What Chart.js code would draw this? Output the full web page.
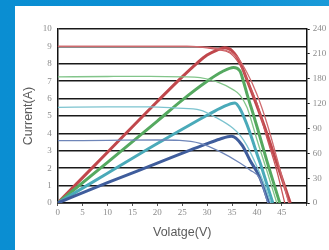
<!DOCTYPE html>
<html>
<head>
<meta charset="utf-8">
<script src="https://cdn.jsdelivr.net/npm/chart.js@4"></script>
<style>
  html, body { margin: 0; padding: 0; }
  body { width: 329px; height: 250px; overflow: hidden; background: linear-gradient(90deg, #0a8ed2 0%, #0b8fd4 60%, #1a9ad8 100%); position: relative; }
  #panel { position: absolute; left: 15px; top: 6px; width: 314px; height: 244px; background: #fff; }
</style>
</head>
<body>
<div id="panel"><canvas id="chart" width="314" height="244"></canvas></div>
<script>
// current (A) vs voltage (V), thin lines, left axis
const redIvV = [0, 10, 20, 26, 30, 32, 34.6, 36, 37.2, 38.6, 40, 42, 44, 45.6];
const redIvA = [9.0, 9.0, 9.0, 9.0, 8.92, 8.82, 8.62, 8.2, 7.64, 6.68, 5.73, 3.75, 1.85, 0];
const red2IvV = [0, 10, 20, 26, 30, 32, 34, 36, 38, 40, 42, 44, 46.4];
const red2IvA = [9.0, 9.0, 9.0, 9.0, 8.95, 8.88, 8.75, 8.4, 7.5, 6.25, 4.6, 2.6, 0];
const greenIvV = [0, 10, 18.5, 25, 28.6, 31.9, 35.3, 36.6, 38, 38.6, 40, 42, 44];
const greenIvA = [7.25, 7.27, 7.28, 7.25, 7.2, 6.97, 6.5, 6.2, 5.5, 5.0, 3.65, 1.85, 0];
const tealIvV = [0, 10, 18.5, 24, 28.6, 31.9, 35.2, 36.6, 38, 40, 41.5, 42.8];
const tealIvA = [5.5, 5.52, 5.53, 5.45, 5.34, 4.9, 4.3, 3.9, 3.3, 2.1, 1.05, 0];
const blueIvV = [0, 10, 20, 24.5, 28.6, 32.6, 36.6, 38.6, 40.6, 42.2];
const blueIvA = [3.58, 3.6, 3.62, 3.6, 3.43, 2.95, 2.3, 1.9, 1.4, 0];

// power vs voltage, thick lines, right axis (0..240 over the plot height)
const redPvV = [0, 10, 20, 25, 28, 30, 32, 33.5, 35, 36.6, 38, 40, 42, 44, 46.7];
const redPvW = [0, 70, 140, 174, 193, 204, 211, 214, 210, 194, 170, 134, 96, 55, 0];
const greenPvV = [0, 10, 20, 25, 30, 33, 35.3, 36.6, 37.2, 38.2, 39.2, 40.2, 42, 44.6];
const greenPvW = [0, 56, 113, 142, 168, 181, 187, 182, 170, 146, 124, 101, 58, 0];
const tealPvV = [0, 10, 20, 26.6, 30, 33, 35.6, 36.6, 37.9, 39, 40, 41, 42, 43.2];
const tealPvW = [0, 41, 82, 108, 121, 132, 138, 130, 110, 89, 68, 48, 26, 0];
const bluePvV = [0, 10, 20, 26.6, 30, 32.5, 34.9, 37, 38.6, 40.6, 42.4];
const bluePvW = [0, 28, 55, 73, 82, 88, 92, 80, 59, 35, 0];

const rightLabels = ['0', '30', '60', '90', '120', '180', '210', '240'];

const tickFont = { family: 'Liberation Serif', size: 9 };
const titleFont = { family: 'Liberation Sans', size: 12.5 };

function pts(xs, ys) {
    return xs.map((x, i) => ({ x: x, y: ys[i] }));
}

function thin(xs, ys, color) {
    return { data: pts(xs, ys), borderColor: color, borderWidth: 1.3, yAxisID: 'y' };
}

function thick(xs, ys, color) {
    return { data: pts(xs, ys), borderColor: color, borderWidth: 3, yAxisID: 'y1' };
}

new Chart(document.getElementById('chart'), {
    type: 'line',
    data: {
        datasets: [
            thin(blueIvV, blueIvA, '#6f86b9'),
            thin(tealIvV, tealIvA, '#7cc3cf'),
            thin(greenIvV, greenIvA, '#82c58a'),
            thin(red2IvV, red2IvA, '#cf6a6e'),
            thin(redIvV, redIvA, '#c9575b'),
            thick(bluePvV, bluePvW, '#3f5d9c'),
            thick(tealPvV, tealPvW, '#4aaab9'),
            thick(greenPvV, greenPvW, '#55a960'),
            thick(redPvV, redPvW, '#c0474c')
        ]
    },
    options: {
        responsive: false,
        animation: false,
        layout: { padding: { top: 23, right: 0, left: 0, bottom: 0 } },
        elements: {
            point: { radius: 0 },
            line: { cubicInterpolationMode: 'monotone', fill: false }
        },
        plugins: { legend: { display: false }, tooltip: { enabled: false } },
        scales: {
            x: {
                type: 'linear',
                min: 0,
                max: 50,
                ticks: {
                    stepSize: 5,
                    font: tickFont,
                    color: '#8c8c8c',
                    padding: 1,
                    maxRotation: 0,
                    callback: (v) => v === 50 ? '' : v
                },
                grid: { drawOnChartArea: false, tickLength: 3, tickColor: '#555' },
                border: { color: '#111', width: 1.5 },
                title: { display: true, text: 'Volatge(V)', font: titleFont, color: '#5a5a5a', padding: { top: 0, bottom: 10 } },
                afterFit: (s) => { s.height = 47; }
            },
            y: {
                position: 'left',
                min: 0,
                max: 10,
                ticks: { stepSize: 1, font: tickFont, color: '#8c8c8c', padding: 6 },
                grid: { color: '#1a1a1a', lineWidth: 1.5, drawTicks: false },
                border: { color: '#111', width: 1.5 },
                title: { display: true, text: 'Current(A)', font: titleFont, color: '#5a5a5a', padding: { top: 6, bottom: 0 } },
                afterFit: (s) => { s.width = 42.7; }
            },
            y1: {
                position: 'right',
                min: 0,
                max: 240,
                afterBuildTicks: (s) => {
                    const n = (rightLabels.length - 1) * 2;
                    s.ticks = [];
                    for (let i = 0; i <= n; i++) s.ticks.push({ value: 240 * i / n });
                },
                ticks: {
                    font: tickFont,
                    color: '#8c8c8c',
                    padding: 3,
                    callback: (v, i) => i % 2 === 0 ? rightLabels[i / 2] : ''
                },
                grid: { drawOnChartArea: false, tickLength: 3, tickColor: '#111' },
                border: { color: '#111', width: 1.5 },
                afterFit: (s) => { s.width = 22.3; }
            }
        }
    }
});
</script>
</body>
</html>
